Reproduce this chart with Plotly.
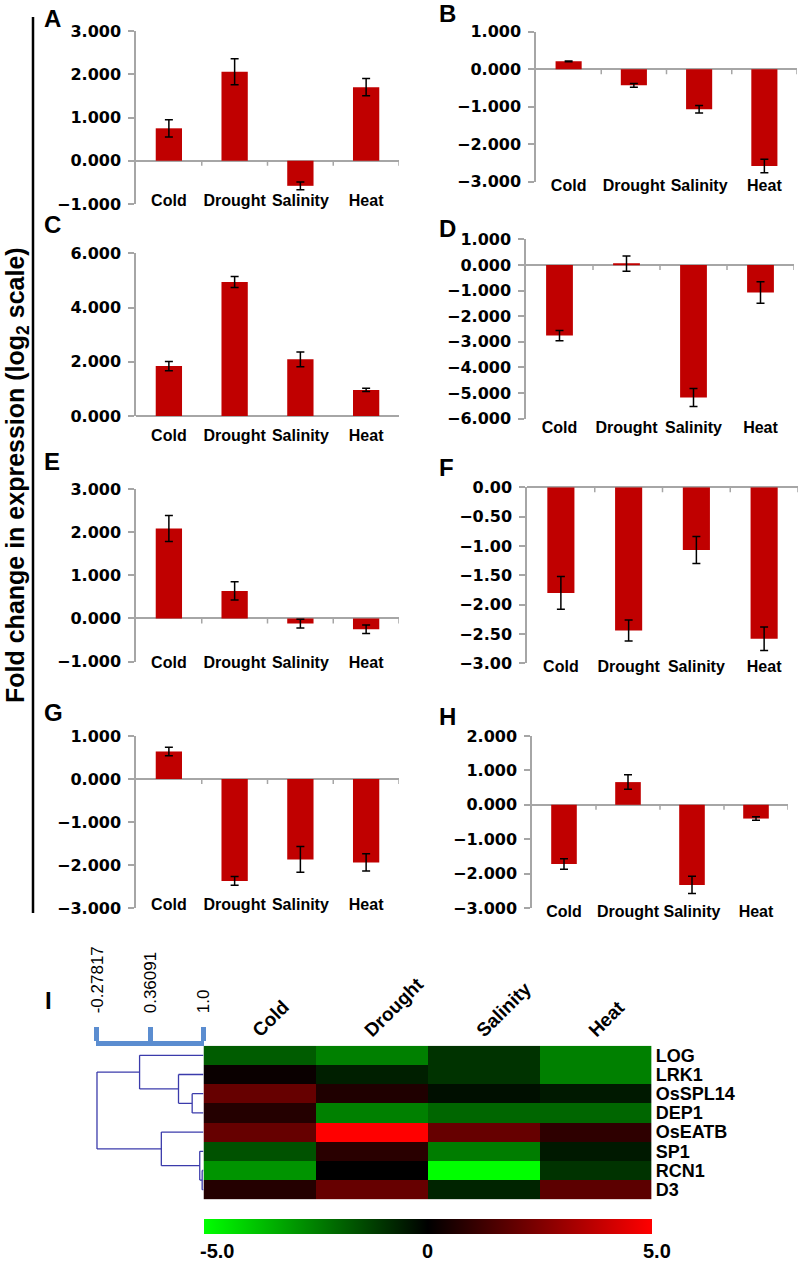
import plotly.graph_objects as go

W, H = 800, 1264

conditions = ['Cold', 'Drought', 'Salinity', 'Heat']

# log2 fold change (mean) and error for panels A-H
a_vals = [0.75, 2.06, -0.58, 1.70]
a_err = [0.20, 0.30, 0.09, 0.20]
b_vals = [0.21, -0.43, -1.07, -2.58]
b_err = [0.01, 0.05, 0.10, 0.18]
c_vals = [1.84, 4.94, 2.09, 0.96]
c_err = [0.17, 0.20, 0.27, 0.06]
d_vals = [-2.76, 0.05, -5.18, -1.08]
d_err = [0.20, 0.30, 0.35, 0.42]
e_vals = [2.09, 0.64, -0.12, -0.25]
e_err = [0.30, 0.21, 0.10, 0.10]
f_vals = [-1.80, -2.44, -1.07, -2.58]
f_err = [0.28, 0.18, 0.23, 0.20]
g_vals = [0.64, -2.37, -1.87, -1.94]
g_err = [0.10, 0.10, 0.30, 0.20]
h_vals = [-1.72, 0.66, -2.33, -0.40]
h_err = [0.15, 0.21, 0.25, 0.05]

# heatmap (panel I)
genes = ['LOG', 'LRK1', 'OsSPL14', 'DEP1', 'OsEATB', 'SP1', 'RCN1', 'D3']
heat_z = [
    [-1.8, -2.5, -1.0, -2.5],
    [0.2, -0.6, -1.0, -2.5],
    [2.0, 0.6, -0.3, -0.5],
    [0.7, -2.5, -2.0, -2.0],
    [2.0, 5.0, 2.0, 0.9],
    [-1.6, 0.8, -2.45, -0.5],
    [-2.9, 0.0, -5.0, -1.0],
    [0.7, 2.0, -0.7, 1.8],
]
colorbar_ticks = [-5, 0, 5]
colorbar_labels = ['-5.0', '0', '5.0']
# dendrogram merges: (node a, node b, similarity); new nodes numbered after the leaves
merges = [(2, 3, 0.864), (1, 8, 0.70), (0, 9, 0.233), (6, 7, 0.984),
          (5, 11, 0.955), (4, 12, 0.494), (10, 13, -0.27817)]
scale_ticks = [-0.27817, 0.36091, 1.0]

# panel layout in pixels: letter, values, errors, range, dtick, format, x px, y px, label offset
panels = [
    ('A', a_vals, a_err, [-1, 3], 1, '.3f', (136, 399), (31, 204), -2),
    ('B', b_vals, b_err, [-3, 1], 1, '.3f', (536, 797), (31.7, 181.7), 5),
    ('C', c_vals, c_err, [0, 6], 2, '.3f', (136, 399), (253.3, 416), 21),
    ('D', d_vals, d_err, [-6, 1], 1, '.3f', (526, 794), (239.3, 418.5), 10),
    ('E', e_vals, e_err, [-1, 3], 1, '.3f', (136, 399), (489.3, 661.5), 2),
    ('F', f_vals, f_err, [-3, 0], 0.5, '.2f', (527, 798), (487.3, 663.3), 5),
    ('G', g_vals, g_err, [-3, 1], 1, '.3f', (136, 399), (736, 908), -2),
    ('H', h_vals, h_err, [-3, 2], 1, '.3f', (532, 788), (736, 908), 5),
]
letter_pos = {'A': (42, 18.5), 'B': (437, 14), 'C': (42, 225), 'D': (437, 229),
              'E': (42, 461), 'F': (437, 467.5), 'G': (42, 712.5), 'H': (437, 716.5),
              'I': (43, 1000)}

BOLD = 'Liberation Sans'
TICKF = 'DejaVu Sans'
GREY = '#a6a6a6'
RED = '#c00000'
HM_X = (203.5, 651.7)
CB_Y = 1219


def px_x(p):
    return p / W


def px_y(p):
    return 1 - p / H


fig = go.Figure()
layout = dict(width=W, height=H, margin=dict(l=0, r=0, t=0, b=0, autoexpand=False),
              paper_bgcolor='white', plot_bgcolor='white', showlegend=False,
              annotations=[], shapes=[])

for i, (letter, vals, errs, rng, dt, fmt, xp, yp, off) in enumerate(panels, start=1):
    sx = '' if i == 1 else str(i)
    fig.add_trace(go.Bar(
        x=list(range(4)), y=vals, width=0.4, marker=dict(color=RED, line=dict(width=0)),
        error_y=dict(type='data', array=errs, color='black', thickness=1.5, width=4),
        xaxis='x' + sx, yaxis='y' + sx))
    layout['xaxis' + sx] = dict(
        domain=[px_x(xp[0]), px_x(xp[1])], anchor='y' + sx, range=[-0.5, 3.5],
        tickvals=list(range(4)), ticktext=conditions, showline=False, showgrid=False,
        zeroline=False, ticks='', ticklabelstandoff=off - 13, automargin=False,
        tickfont=dict(family=BOLD, size=16, color='black', weight='bold'))
    layout['yaxis' + sx] = dict(
        domain=[px_y(yp[1]), px_y(yp[0])], anchor='x' + sx, range=rng, dtick=dt,
        tickformat=fmt, showline=True, linecolor=GREY, linewidth=1.5, ticks='outside',
        ticklen=6, tickcolor=GREY, tickwidth=1.5, showgrid=False, zeroline=True,
        zerolinecolor=GREY, zerolinewidth=1.5, ticklabelstandoff=4, automargin=False,
        tickfont=dict(family=TICKF, size=16, color='black', weight='bold'))
    for b in [0.5, 1.5, 2.5, 3.5]:
        layout['shapes'].append(dict(
            type='line', xref='x' + sx, yref='y' + sx, x0=b, x1=b, ysizemode='pixel',
            yanchor=0, y0=0, y1=-5, line=dict(color=GREY, width=1.5)))

# heatmap
fig.add_trace(go.Heatmap(
    z=heat_z, x=list(range(4)), y=list(range(len(genes))), zmin=-5, zmax=5,
    colorscale=[[0, '#00ff00'], [0.5, '#000000'], [1, '#ff0000']],
    xaxis='x9', yaxis='y9',
    colorbar=dict(orientation='h', x=px_x((HM_X[0] + HM_X[1]) / 2), xanchor='center',
                  y=px_y(CB_Y), yanchor='top', len=(HM_X[1] - HM_X[0]) / W,
                  lenmode='fraction', thickness=15, outlinewidth=0,
                  showticklabels=False, ticks='', xpad=0, ypad=0)))
layout['xaxis9'] = dict(domain=[px_x(HM_X[0]), px_x(HM_X[1])], anchor='y9', side='top',
                        range=[-0.5, 3.5], tickvals=list(range(4)), ticktext=conditions,
                        tickangle=-45, showgrid=False, zeroline=False, ticks='',
                        automargin=False, ticklabelshift=-6,
                        tickfont=dict(family=BOLD, size=19, color='black', weight='bold'))
layout['yaxis9'] = dict(domain=[px_y(1199.3), px_y(1045.7)], anchor='x9', side='right',
                        range=[len(genes) - 0.5, -0.5], tickvals=list(range(len(genes))),
                        ticktext=genes, showgrid=False, zeroline=False, ticks='',
                        automargin=False, ticklabelstandoff=3,
                        tickfont=dict(family=BOLD, size=18, color='black', weight='bold'))

# colorbar labels
span = HM_X[1] - HM_X[0]
for v, t in zip(colorbar_ticks, colorbar_labels):
    cx = HM_X[0] + (v + 5) / 10 * span + (14 if v < 0 else 5 if v > 0 else 0)
    layout['annotations'].append(dict(
        text='<b>%s</b>' % t, x=px_x(cx), y=px_y(1251), xref='paper', yref='paper',
        xanchor='center', yanchor='middle', showarrow=False,
        font=dict(family=BOLD, size=20, color='black')))

# dendrogram built from merges
node_y = {i: float(i) for i in range(len(genes))}
node_x = {i: 1.0 for i in range(len(genes))}
dx, dy = [], []
for k, (a, b, s) in enumerate(merges):
    n = len(genes) + k
    for c in (a, b):
        dx += [node_x[c], s, None]
        dy += [node_y[c], node_y[c], None]
    dx += [s, s, None]
    dy += [node_y[a], node_y[b], None]
    node_x[n] = s
    node_y[n] = (node_y[a] + node_y[b]) / 2
fig.add_trace(go.Scatter(x=dx, y=dy, mode='lines', line=dict(color='#3b3bab', width=1.3),
                         xaxis='x10', yaxis='y9', hoverinfo='skip'))
layout['xaxis10'] = dict(domain=[px_x(96), px_x(HM_X[0])], anchor='y9', side='top',
                         range=[-0.29, 1.0], tickvals=scale_ticks,
                         ticktext=['-0.27817', '0.36091', '1.0'], tickangle=-90,
                         showline=True, linecolor='#5b8dd0', linewidth=5, ticks='outside',
                         ticklen=14, tickwidth=5, tickcolor='#5b8dd0', showgrid=False,
                         zeroline=False, ticklabelstandoff=10, automargin=False,
                         tickfont=dict(family=BOLD, size=17, color='black'))

# panel letters
for letter, (lx, ly) in letter_pos.items():
    layout['annotations'].append(dict(
        text='<b>%s</b>' % letter, x=px_x(lx), y=px_y(ly), xref='paper', yref='paper',
        xanchor='left', yanchor='middle', showarrow=False,
        font=dict(family=BOLD, size=24, color='black')))

# shared y title and bar
layout['annotations'].append(dict(
    text='<b>Fold change in expression (log<sub>2</sub> scale)</b>', x=px_x(17),
    y=px_y(475), xref='paper', yref='paper', textangle=-90, showarrow=False,
    xanchor='center', yanchor='middle', font=dict(family=BOLD, size=25, color='black')))
layout['shapes'].append(dict(type='line', xref='paper', yref='paper', x0=px_x(33),
                             x1=px_x(33), y0=px_y(17), y1=px_y(913),
                             line=dict(color='black', width=2.5)))

fig.update_layout(**layout)
# page body margin would shift the 800x1264 figure; remove it
fig.write_html('out.html', config={'displayModeBar': False},
               post_script="document.body.style.margin='0px';")
